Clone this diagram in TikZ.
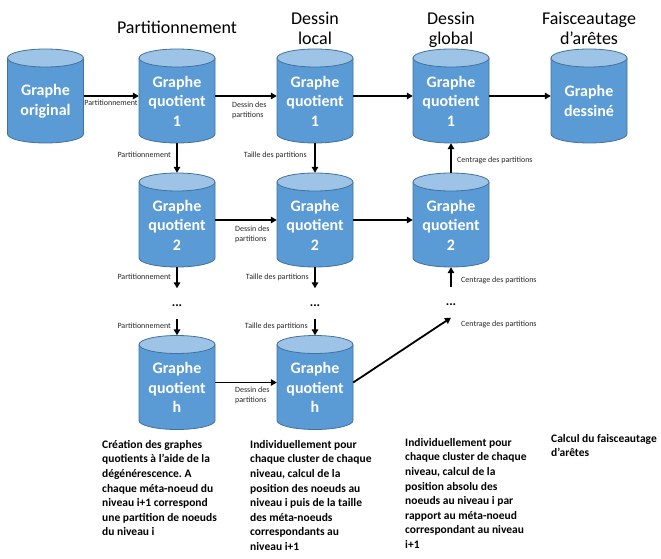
\documentclass[tikz,border=0pt]{standalone}
\usepackage{fontspec}
\setmainfont{Carlito}
\usetikzlibrary{arrows.meta}
\frenchspacing
\definecolor{cylbody}{HTML}{5B9BD5}
\definecolor{cyltop}{HTML}{9DC3E6}
\definecolor{cylline}{HTML}{41719C}
\definecolor{lbl}{HTML}{262626}
\newcommand\drawcyl[4]{%
  \fill[cylbody] (#2-38,#3-38) -- (#2-38,#3+38) arc[start angle=180,end angle=360,x radius=38pt,y radius=9pt] -- (#2+38,#3-38) -- cycle;
  \draw[cylline,line width=0.8pt] (#2-38,#3-38) -- (#2-38,#3+38) arc[start angle=180,end angle=360,x radius=38pt,y radius=9pt] -- (#2+38,#3-38);
  \filldraw[fill=cyltop,draw=cylline,line width=0.8pt] (#2,#3-38) ellipse[x radius=38pt,y radius=9pt];
  \node[cylbox] (#1) at (#2,#3) {};
  \node[cyltext] (#1t) at (#2,#3+5) {#4};
}
\begin{document}
\begin{tikzpicture}[x=1pt,y=-1pt,
  cylbox/.style={minimum width=76pt,minimum height=94pt,inner sep=0pt},
  cyltext/.style={text=white,align=center,font=\fontsize{16}{19.5}\selectfont\bfseries,inner sep=0pt},
  arr/.style={line width=1.8pt,-{Triangle[length=6pt,width=6.5pt]}},
  small/.style={font=\fontsize{8}{10}\selectfont,text=lbl,inner sep=0pt,align=left},
  title/.style={font=\fontsize{18}{20}\selectfont,inner sep=0pt,anchor=base},
  dotsn/.style={font=\fontsize{13}{13}\selectfont\bfseries,minimum height=30pt,inner sep=0pt,text height=6pt,text depth=0pt},
  desc/.style={font=\fontsize{11.5}{14.6}\selectfont\bfseries,inner sep=0pt,align=left,anchor=north west}]
\useasboundingbox (0,0) rectangle (661,559);

% titles
\node[title] (t1) at (177,34) {Partitionnement};
\node[title] (t2a) at (315,25) {Dessin};
\node[title] (t2b) at (315,45) {local};
\node[title] (t3a) at (451,25) {Dessin};
\node[title] (t3b) at (451,45) {global};
\node[title] (t4a) at (589,25) {Faisceautage};
\node[title] (t4b) at (589,45) {d’arêtes};

% cylinders
\drawcyl{c0}{45.5}{96}{Graphe\\original}
\drawcyl{c11}{177}{96}{Graphe\\quotient\\1}
\drawcyl{c12}{315}{96}{Graphe\\quotient\\1}
\drawcyl{c13}{451}{96}{Graphe\\quotient\\1}
\drawcyl{c14}{589}{96}{Graphe\\dessiné}
\drawcyl{c21}{177}{220}{Graphe\\quotient\\2}
\drawcyl{c22}{315}{220}{Graphe\\quotient\\2}
\drawcyl{c23}{451}{220}{Graphe\\quotient\\2}
\drawcyl{c31}{177}{382.5}{Graphe\\quotient\\h}
\drawcyl{c32}{315}{382.5}{Graphe\\quotient\\h}

% dots
\node[dotsn] (d1) at (177,303.5) {...};
\node[dotsn] (d2) at (315,303.5) {...};
\node[dotsn] (d3) at (451,302.5) {...};

% horizontal arrows
\draw[arr] (c0.east) -- (c11.west);
\draw[arr] (c11.east) -- (c12.west);
\draw[arr] (c12.east) -- (c13.west);
\draw[arr] (c13.east) -- (c14.west);
\draw[arr] (c21.east) -- (c22.west);
\draw[arr] (c22.east) -- (c23.west);
\draw[arr] (c31.east) -- (c32.west);

% vertical arrows
\draw[arr] (c11.south) -- (c21.north);
\draw[arr] (c21.south) -- (d1.north);
\draw[arr] (d1.south) -- (c31.north);
\draw[arr] (c12.south) -- (c22.north);
\draw[arr] (c22.south) -- (d2.north);
\draw[arr] (d2.south) -- (c32.north);
\draw[arr] (c23.north) -- (c13.south);
\draw[arr] (d3.north) -- (c23.south);
\draw[arr] (c32.east) -- (d3.south);

% arrow labels
\node[small] (l01) at (111,103) {Partitionnement};
\node[small,anchor=north west] (l12) at (232,102) {Dessin des\\partitions};
\node[small,anchor=north west] (l22) at (235,226) {Dessin des\\partitions};
\node[small,anchor=north west] (l32) at (235,387) {Dessin des\\partitions};
\node[small,anchor=east] (v11) at (171,155) {Partitionnement};
\node[small,anchor=east] (v12) at (307,155) {Taille des partitions};
\node[small,anchor=west] (v13) at (457,160) {Centrage des partitions};
\node[small,anchor=east] (v21) at (171,277) {Partitionnement};
\node[small,anchor=east] (v22) at (309,277) {Taille des partitions};
\node[small,anchor=west] (v23) at (461,280) {Centrage des partitions};
\node[small,anchor=east] (v31) at (171,326) {Partitionnement};
\node[small,anchor=east] (v32) at (308,326) {Taille des partitions};
\node[small,anchor=west] (v33) at (461,324) {Centrage des partitions};

% descriptions
\node[desc] (x1) at (102,440) {Création des graphes\\quotients à l’aide de la\\dégénérescence. A\\chaque méta-noeud du\\niveau i+1 correspond\\une partition de noeuds\\du niveau i};
\node[desc] (x2) at (250,440) {Individuellement pour\\chaque cluster de chaque\\niveau, calcul de la\\position des noeuds au\\niveau i puis de la taille\\des méta-noeuds\\correspondants au\\niveau i+1};
\node[desc] (x3) at (405,438) {Individuellement pour\\chaque cluster de chaque\\niveau, calcul de la\\position absolu des\\noeuds au niveau i par\\rapport au méta-noeud\\correspondant au niveau\\i+1};
\node[desc] (x4) at (551,434) {Calcul du faisceautage\\d’arêtes};
\end{tikzpicture}
\end{document}
